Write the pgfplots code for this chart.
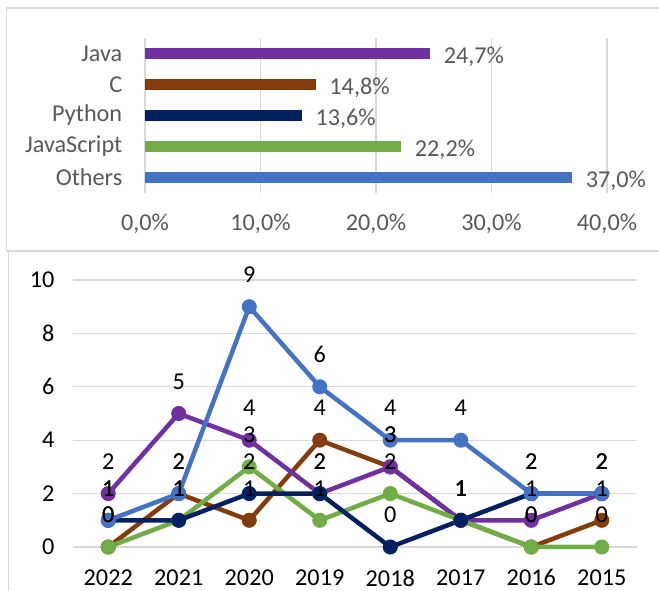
\documentclass[border=0pt]{standalone}
\usepackage{pgfplots}
\pgfplotsset{compat=1.18}
\usepackage{pgfplotstable}
\usepackage{fontspec}
\setmainfont{Carlito}
\definecolor{cjava}{HTML}{7030A0}
\definecolor{cc}{HTML}{843C0C}
\definecolor{cpy}{HTML}{002060}
\definecolor{cjs}{HTML}{70AD47}
\definecolor{coth}{HTML}{4472C4}
\definecolor{gridc}{HTML}{D9D9D9}
\definecolor{txtg}{HTML}{595959}

\pgfplotstableread{
x others java c js py
0 1 2 0 0 1
1 2 5 2 1 1
2 9 4 1 3 2
3 6 2 4 1 2
4 4 3 3 2 0
5 4 1 1 1 1
6 2 1 0 0 2
7 2 2 1 0 2
}\yearsdata

\newcommand{\cfont}{\fontsize{24.2bp}{28bp}\selectfont}

\begin{document}
\begin{tikzpicture}[x=1bp,y=1bp]
\useasboundingbox (0,0) rectangle (659,591);
\draw[gridc, line width=1.5bp] (659,583) -- (6.5,583) -- (6.5,340) -- (659,340);
\draw[gridc, line width=1.5bp] (8.5,340) -- (8.5,0);

\begin{axis}[
  at={(145bp,398bp)}, anchor=south west, scale only axis,
  width=462bp, height=155bp,
  xbar, bar width=11bp, bar shift=0pt,
  xmin=0, xmax=40, ymin=-0.5, ymax=4.5,
  axis line style={draw=none}, tick style={draw=none},
  xmajorgrids, grid style={gridc, line width=1.3bp},
  xtick={0,10,20,30,40},
  xticklabel={\pgfmathprintnumber[fixed,fixed zerofill,precision=1,use comma,assume math mode=true]{\tick}\%},
  ytick={0,1,2,3,4}, yticklabels={Others,JavaScript,Python,C,Java},
  ticklabel style={font=\cfont, text=txtg},
  xticklabel style={yshift=-17bp}, yticklabel style={xshift=-15bp},
  point meta=x,
  nodes near coords={\pgfmathprintnumber[fixed,fixed zerofill,precision=1,use comma,assume math mode=true]{\pgfplotspointmeta}\%},
  nodes near coords style={font=\cfont, text=txtg, anchor=west, xshift=10bp, yshift=-3bp},
  clip=false
]
\addplot[fill=coth, draw=none] coordinates {(37.0,0)};
\addplot[fill=cjs, draw=none] coordinates {(22.2,1)};
\addplot[fill=cpy, draw=none] coordinates {(13.6,2)};
\addplot[fill=cc, draw=none] coordinates {(14.8,3)};
\addplot[fill=cjava, draw=none] coordinates {(24.7,4)};
\end{axis}

\begin{axis}[
  at={(73bp,44bp)}, anchor=south west, scale only axis,
  width=564bp, height=267bp,
  xmin=-0.5, xmax=7.5, ymin=0, ymax=10,
  xtick={0,1,2,3,4,5,6,7},
  xticklabels={2022,2021,2020,2019,2018,2017,2016,2015},
  ytick={0,2,4,6,8,10},
  axis line style={draw=none}, tick style={draw=none},
  ymajorgrids, grid style={gridc, line width=1.3bp},
  ticklabel style={font=\cfont, text=black},
  xticklabel style={yshift=-19bp}, yticklabel style={xshift=-15bp},
  /pgf/number format/assume math mode=true,
  clip=false,
  lineplot/.style={line width=4.5bp, mark=*, mark size=7bp, mark options={line width=1bp, fill=#1, draw=#1, solid}, draw=#1},
  lbl/.style={draw=none, mark=none, point meta=y, nodes near coords,
    nodes near coords style={font=\cfont, text=black, anchor=center, yshift=32bp}}
]
\addplot[lineplot=cc] table[x=x,y=c]{\yearsdata};
\addplot[lineplot=cjava] table[x=x,y=java]{\yearsdata};
\addplot[lineplot=cjs] table[x=x,y=js]{\yearsdata};
\addplot[lineplot=cpy] table[x=x,y=py]{\yearsdata};
\addplot[lineplot=coth] table[x=x,y=others]{\yearsdata};
\addplot[lbl] table[x=x,y=c]{\yearsdata};
\addplot[lbl] table[x=x,y=java]{\yearsdata};
\addplot[lbl] table[x=x,y=js]{\yearsdata};
\addplot[lbl] table[x=x,y=py]{\yearsdata};
\addplot[lbl] table[x=x,y=others]{\yearsdata};
\end{axis}
\end{tikzpicture}
\end{document}
